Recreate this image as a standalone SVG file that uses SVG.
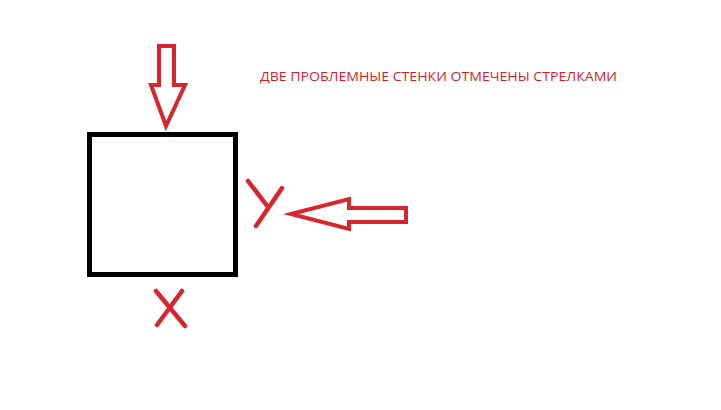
<svg xmlns="http://www.w3.org/2000/svg" width="721" height="410" viewBox="0 0 721 410">
<style>
.red{fill:none;stroke:#d9252e;stroke-width:4;stroke-linejoin:miter;stroke-linecap:round}
.lbl{fill:none;stroke:#d9252e;stroke-width:4.5;stroke-linecap:round}
.box{fill:none;stroke:#000;stroke-width:5}
.t{font-family:"Open Sans","Liberation Sans",sans-serif;font-size:12px;fill:#d01f2a}
</style>
<rect width="721" height="410" fill="#fff"/>
<g id="square"><rect class="box" x="89.5" y="134.5" width="146" height="140"/></g>
<g id="label-y"><path class="lbl" d="M248,181 L268,207 M282,188 L256,226"/></g>
<g id="label-x"><path class="lbl" d="M156,291 L185,326 M182,291 L157,325"/></g>
<g id="title"><text class="t" x="260" y="81" textLength="357" lengthAdjust="spacingAndGlyphs">ДВЕ ПРОБЛЕМНЫЕ СТЕНКИ ОТМЕЧЕНЫ СТРЕЛКАМИ</text></g>
<g id="connectors">
<path class="red" d="M159,46 L174,46 L174,85 L185,85 L166,126 L151,85 L159,85 Z"/>
<path class="red" d="M406,208 L349,208 L349,199 L291,214 L349,229 L349,222 L406,222 Z"/>
</g>
</svg>
